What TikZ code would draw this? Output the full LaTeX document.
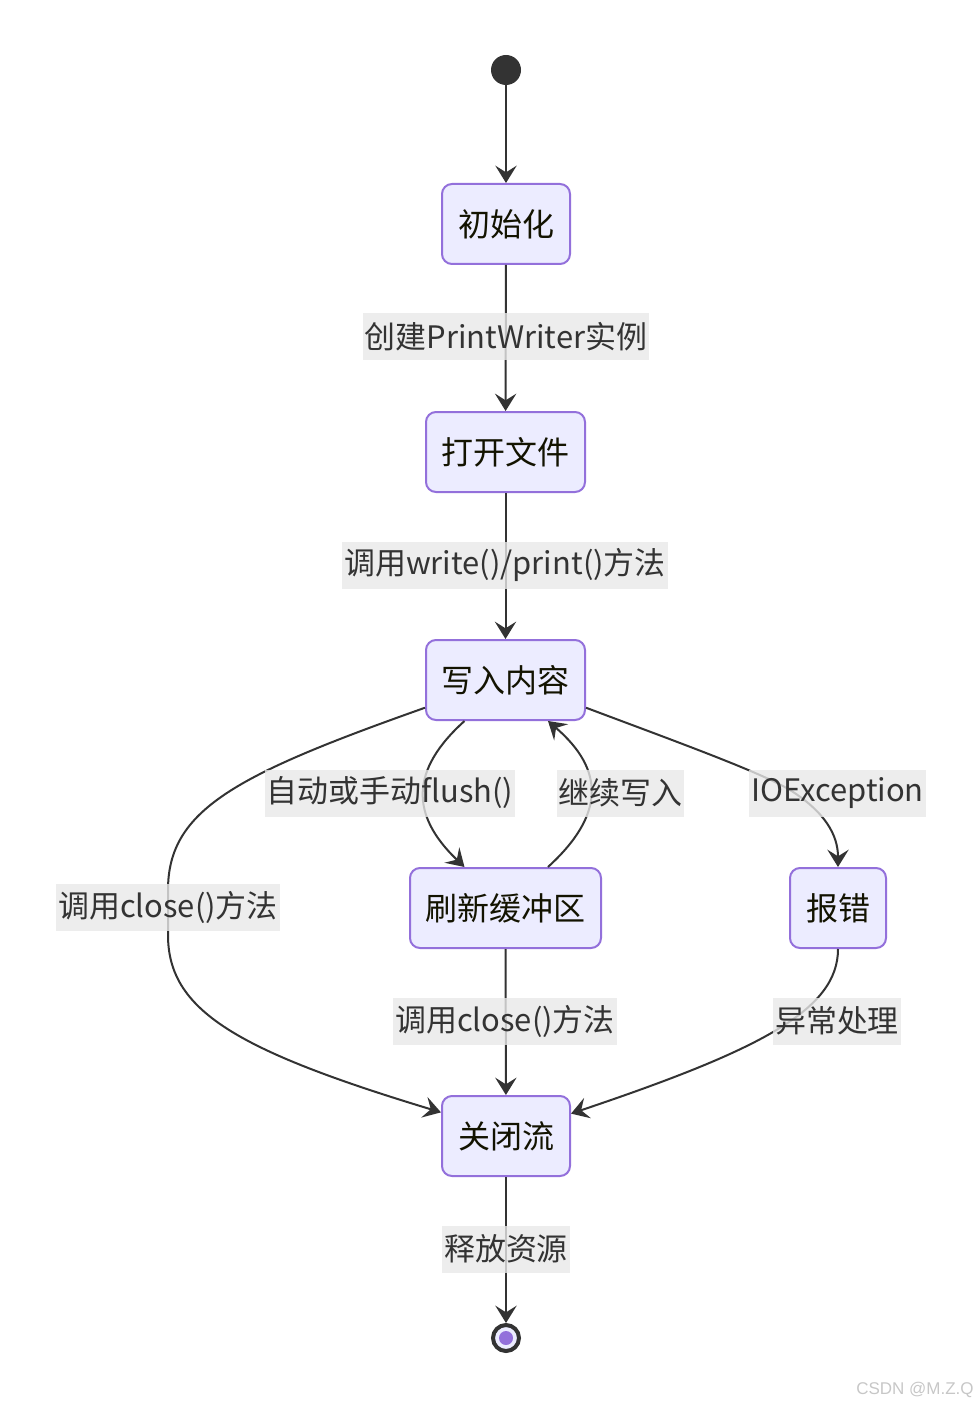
\documentclass[tikz,border=0pt]{standalone}
\usepackage{fontspec}
\setmainfont{Noto Sans CJK SC}
\newfontfamily\wmfont{Liberation Sans}
\usetikzlibrary{arrows.meta}
\definecolor{nodefill}{HTML}{ECECFF}
\definecolor{nodeline}{HTML}{9370DB}
\definecolor{edgec}{HTML}{333333}
\definecolor{lblbg}{HTML}{E8E8E8}
\definecolor{stxt}{HTML}{131300}
\begin{document}
\begin{tikzpicture}[x=0.75pt,y=-0.75pt,
  state/.style={draw=nodeline, fill=nodefill, line width=1.5pt, rounded corners=7.5pt,
    minimum height=60pt, inner sep=0pt, text=stxt, font=\fontsize{24}{28}\selectfont},
  lbl/.style={fill=lblbg, fill opacity=0.8, text opacity=1, text=edgec,
    font=\fontsize{23.2}{28}\selectfont, inner xsep=1.5pt, inner ysep=0pt, minimum height=35.25pt},
  conn/.style={draw=edgec, line width=1.5pt, -{Stealth[length=13pt,width=16pt,inset=5pt]}}
]
\useasboundingbox (0,0) rectangle (979,1408);
% states
\node[circle, fill=edgec, minimum size=22.5pt, inner sep=0pt] (s) at (506,70) {};
\node[state, minimum width=96pt] (i) at (506,224) {初始化};
\node[state, minimum width=119.25pt] (p) at (505.5,452) {打开文件};
\node[state, minimum width=119.25pt] (w) at (505.5,680) {写入内容};
\node[state, minimum width=143.25pt] (f) at (505.5,908) {刷新缓冲区};
\node[state, minimum width=72pt] (e) at (838,908) {报错};
\node[state, minimum width=96pt] (c) at (506,1136) {关闭流};
\node[circle, draw=edgec, line width=3pt, fill=nodefill, minimum size=19.5pt, inner sep=0pt] (z) at (506,1338) {};
\node[circle, fill=nodeline, minimum size=10.5pt, inner sep=0pt] (zd) at (506,1338) {};
% connectors
\draw[conn] (s) -- (i);
\draw[conn] (i) -- (p);
\draw[conn] (p) -- (w);
\draw[conn] (w.199.4) .. controls (235,775) and (168,810) .. (168,890) -- (168,935)
  .. controls (168,1010) and (235,1050) .. (c.160.2);
\draw[conn] (w.-135) .. controls (410,770) and (410,815) .. (f.135);
\draw[conn] (f.44) .. controls (605,815) and (605,770) .. (w.-44);
\draw[conn] (w.-19.4) .. controls (680,743) and (760,772) .. (790,790)
  .. controls (825,812) and (838,835) .. (e.north);
\draw[conn] (e.south) .. controls (838,1010) and (760,1050) .. (c.19.8);
\draw[conn] (f) -- (c);
\draw[conn] (c) -- (z);
% labels
\node[lbl] (l1) at (506,337) {创建PrintWriter实例};
\node[lbl] (l2) at (505,565) {调用write()/print()方法};
\node[lbl] (l3) at (390,793) {自动或手动flush()};
\node[lbl] (l4) at (620.5,793) {继续写入};
\node[lbl] (l5) at (837.5,793) {IOException};
\node[lbl] (l6) at (168,907) {调用close()方法};
\node[lbl] (l7) at (505,1021) {调用close()方法};
\node[lbl] (l8) at (837,1021) {异常处理};
\node[lbl] (l9) at (506,1249) {释放资源};
\node[font=\wmfont\fontsize{12.75}{15}\selectfont, text=black!22] (wmk) at (915,1390) {CSDN @M.Z.Q};
\end{tikzpicture}
\end{document}
